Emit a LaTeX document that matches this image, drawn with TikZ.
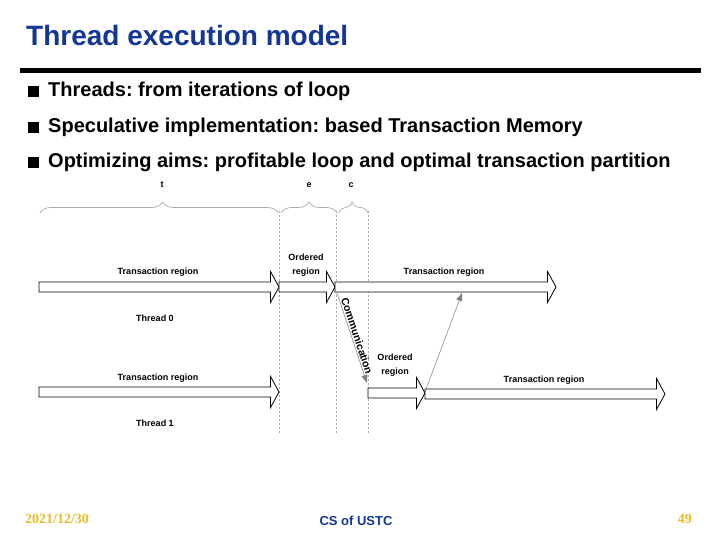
\documentclass[tikz,border=0pt]{standalone}
\usepackage{fontspec}
\setmainfont{Liberation Sans}
\newfontfamily\footserif{Liberation Serif}
\usetikzlibrary{arrows.meta,decorations.pathreplacing}
\frenchspacing
\definecolor{titleblue}{RGB}{20,55,150}
\definecolor{gold}{RGB}{232,188,40}
\definecolor{guidegray}{RGB}{170,170,170}
\tikzset{
  fatarr/.style={draw=black, line width=0.8pt, fill=white},
  lbl/.style={font=\bfseries\fontsize{9}{10}\selectfont, inner sep=0pt},
  tlbl/.style={font=\bfseries\fontsize{9}{10}\selectfont, inner sep=0pt},
  bullettext/.style={font=\bfseries\fontsize{20}{22}\selectfont, anchor=base west, inner sep=0pt},
  guide/.style={guidegray, line width=0.6pt, dash pattern=on 2pt off 2pt},
  bracestyle/.style={draw=guidegray, line width=0.7pt, decorate, decoration={brace, amplitude=11pt}},
  msg/.style={draw=gray, line width=0.5pt, -{Triangle[length=8pt,width=6pt]}},
}
% fat arrow: #1 = x start, #2 = x tip, #3 = y centre
\newcommand\fatarrow[3]{%
  \draw[fatarr] (#1,#3-5) -- (#2-8.5,#3-5) -- (#2-8.5,#3-15.5) -- (#2,#3)
    -- (#2-8.5,#3+15.5) -- (#2-8.5,#3+5) -- (#1,#3+5) -- cycle;}
\begin{document}
\begin{tikzpicture}[x=1pt,y=-1pt]
\useasboundingbox (0,0) rectangle (720,540);
\fill[white] (0,0) rectangle (720,540);

% title
\node[anchor=base west, inner sep=0pt, text=titleblue, font=\bfseries\fontsize{28}{30}\selectfont] (title) at (26,46) {Thread execution model};
\fill[black] (20,68) rectangle (701,73);

% bullets
\fill[black] (28,86) rectangle (39,97);
\node[bullettext] (b1) at (48,97) {Threads: from iterations of loop};
\fill[black] (28,122) rectangle (39,133);
\node[bullettext] (b2) at (48,133) {Speculative implementation: based Transaction Memory};
\fill[black] (28,157) rectangle (39,168);
\node[bullettext] (b3) at (48,168) {Optimizing aims: profitable loop and optimal transaction partition};

% braces and labels
\node[tlbl] (lt) at (162,185) {t};
\node[tlbl] (le) at (309,185) {e};
\node[tlbl] (lc) at (351,185) {c};
\draw[bracestyle, decoration={aspect=0.515}] (40,213) -- (278,213);
\draw[bracestyle] (281,213) -- (337,213);
\draw[bracestyle, decoration={aspect=0.45}] (339,213) -- (368,213);

% guides
\draw[guide] (279,211) -- (279,435);
\draw[guide] (336,211) -- (336,435);
\draw[guide] (368,211) -- (368,435);

% thread 0
\fatarrow{39}{279}{287}
\fatarrow{279}{335}{287}
\fatarrow{335}{556}{287}
\node[lbl] (t0a) at (158,272) {Transaction region};
\node[lbl, align=center, font=\bfseries\fontsize{9}{14}\selectfont] (t0b) at (306,265) {Ordered\\region};
\node[lbl] (t0c) at (444,272) {Transaction region};
\node[lbl] (th0) at (155,318) {Thread 0};

% thread 1
\fatarrow{39}{279}{392}
\fatarrow{368}{425}{393}
\fatarrow{425}{665}{394}
\node[lbl] (t1a) at (158,378) {Transaction region};
\node[lbl, align=center, font=\bfseries\fontsize{9}{14}\selectfont] (t1b) at (395,365) {Ordered\\region};
\node[lbl] (t1c) at (544,380) {Transaction region};
\node[lbl] (th1) at (155,423) {Thread 1};

% messages
\coordinate (c0out) at (337,293);
\coordinate (c1in) at (367,383);
\coordinate (c1out) at (425,392);
\coordinate (c0in) at (462,293);
\draw[msg] (c0out) -- (c1in);
\node[rotate=-71.57, inner sep=0pt, font=\bfseries\fontsize{10.5}{12}\selectfont] (comm) at (357,336) {Communication};
\draw[msg] (c1out) -- (c0in);

% footer
\node[anchor=base west, inner sep=0pt, text=gold, font=\footserif\bfseries\fontsize{14}{16}\selectfont] (date) at (25,523) {2021/12/30};
\node[anchor=base, inner sep=0pt, text=titleblue, font=\bfseries\fontsize{13}{15}\selectfont] (org) at (356,525) {CS of USTC};
\node[anchor=base east, inner sep=0pt, text=gold, font=\footserif\bfseries\fontsize{14}{16}\selectfont] (page) at (692,523) {49};
\end{tikzpicture}
\end{document}
